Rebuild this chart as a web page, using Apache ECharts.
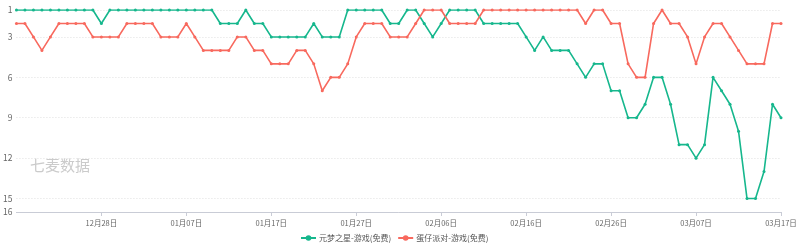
<!DOCTYPE html>
<html>
<head>
<meta charset="utf-8">
<script src="https://cdn.jsdelivr.net/npm/echarts@6/dist/echarts.min.js"></script>
<style>
html,body{margin:0;padding:0;background:#fff;}
#chart{width:800px;height:247px;}
</style>
</head>
<body>
<div id="chart"></div>
<script>
const dates = [
 '12月18日','12月19日','12月20日','12月21日','12月22日','12月23日','12月24日','12月25日','12月26日','12月27日',
 '12月28日','12月29日','12月30日','12月31日','01月01日','01月02日','01月03日','01月04日','01月05日','01月06日',
 '01月07日','01月08日','01月09日','01月10日','01月11日','01月12日','01月13日','01月14日','01月15日','01月16日',
 '01月17日','01月18日','01月19日','01月20日','01月21日','01月22日','01月23日','01月24日','01月25日','01月26日',
 '01月27日','01月28日','01月29日','01月30日','01月31日','02月01日','02月02日','02月03日','02月04日','02月05日',
 '02月06日','02月07日','02月08日','02月09日','02月10日','02月11日','02月12日','02月13日','02月14日','02月15日',
 '02月16日','02月17日','02月18日','02月19日','02月20日','02月21日','02月22日','02月23日','02月24日','02月25日',
 '02月26日','02月27日','02月28日','02月29日','03月01日','03月02日','03月03日','03月04日','03月05日','03月06日',
 '03月07日','03月08日','03月09日','03月10日','03月11日','03月12日','03月13日','03月14日','03月15日','03月16日',
 '03月17日'
];
const seriesNames = ['元梦之星-游戏(免费)', '蛋仔派对-游戏(免费)'];
const yuanmeng = [
 1,1,1,1,1,1,1,1,1,1,
 2,
 1,1,1,1,1,1,1,1,1,1,1,1,1,
 2,2,2,
 1,
 2,2,
 3,3,3,3,3,
 2,
 3,3,3,
 1,1,1,1,1,
 2,2,
 1,1,
 2,
 3,
 2,
 1,1,1,1,
 2,2,2,2,2,
 3,
 4,
 3,
 4,4,4,
 5,
 6,
 5,5,
 7,7,
 9,9,
 8,
 6,6,
 8,
 11,11,
 12,
 11,
 6,
 7,
 8,
 10,
 15,15,
 13,
 8,
 9
];
const danzai = [
 2,2,3,4,3,2,2,2,2,
 3,3,3,3,
 2,2,2,2,
 3,3,3,
 2,
 3,
 4,4,4,4,
 3,3,
 4,4,
 5,5,5,
 4,4,
 5,
 7,
 6,6,
 5,
 3,
 2,2,2,
 3,3,3,
 2,
 1,1,1,
 2,2,2,2,
 1,1,1,1,1,1,1,1,1,1,1,1,
 2,
 1,1,
 2,2,
 5,
 6,6,
 2,
 1,
 2,2,
 3,
 5,
 3,
 2,2,
 3,
 4,
 5,5,5,
 2,2
];
const yTicks = [1,3,6,9,12,15,16];
const colors = ['#16b78d', '#f8695e'];

const chart = echarts.init(document.getElementById('chart'), null, {renderer:'canvas'});
const labelInterval = (idx) => idx % 10 === 0 && idx !== 0;
chart.setOption({
  animation: false,
  textStyle: {fontFamily: '"Noto Sans CJK SC", "Noto Sans", sans-serif'},
  color: colors,
  grid: {left: 15, right: 19, top: 10, bottom: 35, containLabel: false},
  graphic: [{
    type: 'text', left: 30, top: 158,
    style: {text: '七麦数据', fontSize: 15, fill: '#cbcbcb', fontFamily: '"Noto Sans CJK SC", sans-serif'}
  }],
  legend: {
    bottom: 0, left: 295,
    itemWidth: 15, itemHeight: 7, itemGap: 6,
    textStyle: {fontSize: 8, color: '#555', padding: [0, 0, 0, -2]},
    data: seriesNames
  },
  xAxis: {
    type: 'category', boundaryGap: false, data: dates,
    axisLine: {lineStyle: {color: '#c9ccd6'}},
    axisTick: {interval: labelInterval, length: 4, lineStyle: {color: '#c9ccd6'}},
    axisLabel: {interval: labelInterval, fontSize: 7.5, color: '#666', margin: 7}
  },
  yAxis: {
    type: 'value', inverse: true, min: 1, max: 16,
    axisLine: {show: false},
    axisTick: {show: false, customValues: yTicks},
    axisLabel: {customValues: yTicks, fontSize: 8.5, color: '#666', margin: 4},
    splitLine: {lineStyle: {color: '#e0e0e0', type: [1, 2]}}
  },
  series: [
    {name: seriesNames[0], type: 'line', data: yuanmeng, symbol: 'circle', symbolSize: 3,
     lineStyle: {width: 1.6}, itemStyle: {color: colors[0]}},
    {name: seriesNames[1], type: 'line', data: danzai, symbol: 'circle', symbolSize: 3,
     lineStyle: {width: 1.6}, itemStyle: {color: colors[1]}}
  ]
});
</script>
</body>
</html>
